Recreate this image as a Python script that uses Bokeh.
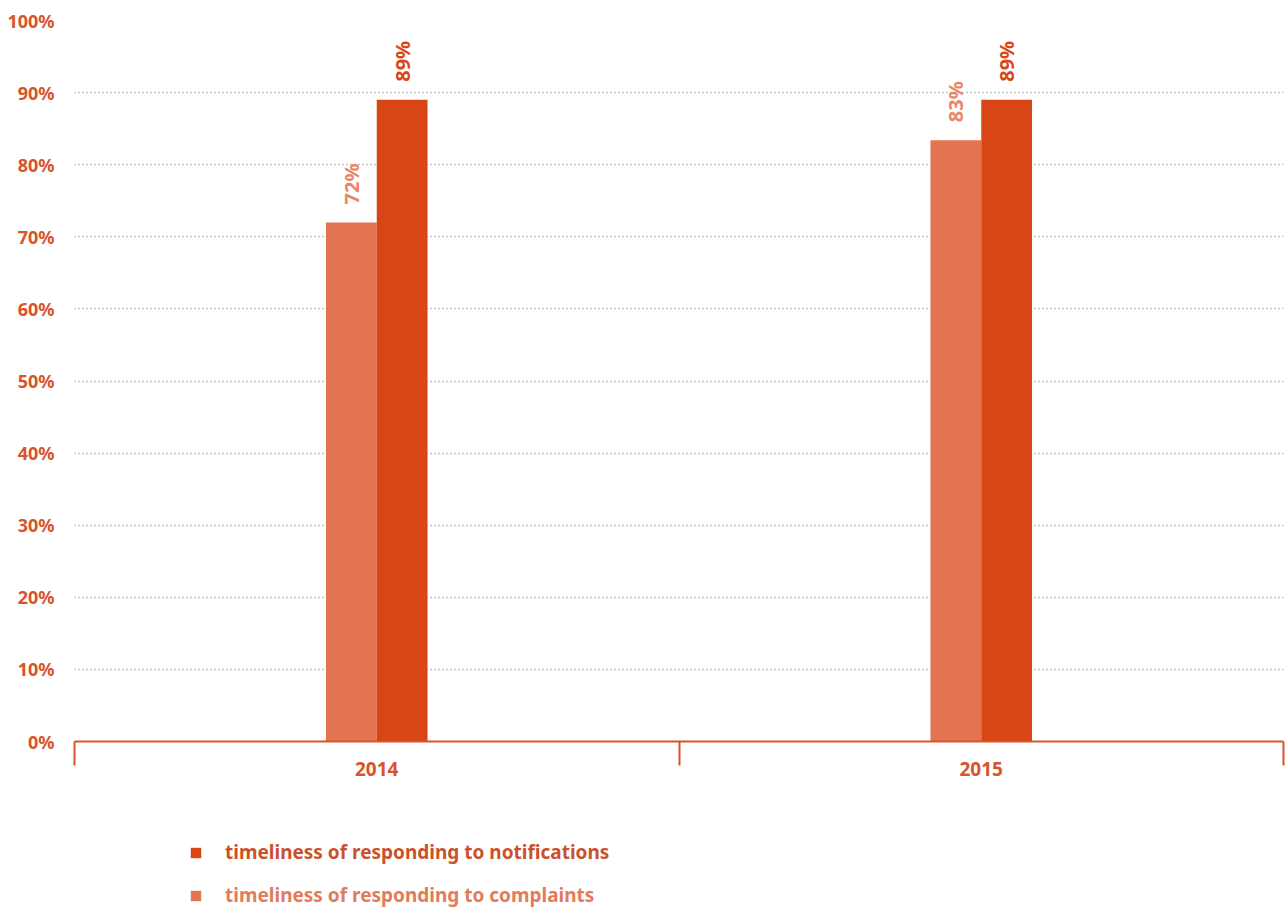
from math import pi
from bokeh.plotting import figure
from bokeh.layouts import column
from bokeh.models import (ColumnDataSource, Range1d, FixedTicker, Legend, LegendItem,
                          CustomJSTickFormatter)
from bokeh.transform import dodge
from bokeh.core.properties import value
from bokeh.embed import file_html
from bokeh.resources import INLINE

years = ["2014", "2015"]
complaints = [72, 83.4]
notifications = [89, 89]
y_ticks = [0, 10, 20, 30, 40, 50, 60, 70, 80, 90, 100]
series_names = ["timeliness of responding to notifications",
                "timeliness of responding to complaints"]

FONT = "Noto Sans"
C_NOTIF = "#D84616"
C_COMPL = "#E37451"
C_TEXT = "#D9532B"

xs = [i + 0.5 for i in range(len(years))]
src = ColumnDataSource(dict(
    x=xs, year=years, compl=complaints, notif=notifications,
    compl_lbl=[f"{round(v)}%" for v in complaints],
    notif_lbl=[f"{round(v)}%" for v in notifications],
))

W = 1285
p = figure(width=W, height=800, output_backend="svg", toolbar_location=None,
           x_range=Range1d(0, len(years)), y_range=Range1d(0, 100),
           min_border_left=74, min_border_right=2, min_border_top=20, min_border_bottom=59)
p.outline_line_color = None
p.background_fill_color = "white"
p.border_fill_color = "white"

# grid
p.xgrid.grid_line_color = None
p.ygrid.ticker = FixedTicker(ticks=y_ticks)
p.ygrid.grid_line_color = "#8a8a8a"
p.ygrid.grid_line_dash = "1 3"
p.ygrid.grid_line_width = 1.5

bw = 0.084
r_c = p.vbar(x=dodge("x", -bw / 2, range=p.x_range), top="compl", width=bw, bottom=0,
             source=src, fill_color=C_COMPL, line_color=None)
r_n = p.vbar(x=dodge("x", bw / 2, range=p.x_range), top="notif", width=bw, bottom=0,
             source=src, fill_color=C_NOTIF, line_color=None)

p.text(x=dodge("x", -bw / 2, range=p.x_range), y="compl", text="compl_lbl", source=src,
       angle=pi / 2, text_align="left", text_baseline="middle", y_offset=-18,
       text_font=value(FONT), text_font_size="20px", text_font_style="bold",
       text_color="#E9876A")
p.text(x=dodge("x", bw / 2, range=p.x_range), y="notif", text="notif_lbl", source=src,
       angle=pi / 2, text_align="left", text_baseline="middle", y_offset=-18,
       text_font=value(FONT), text_font_size="20px", text_font_style="bold",
       text_color=C_NOTIF)

# y axis
ya = p.yaxis[0]
ya.ticker = FixedTicker(ticks=y_ticks)
ya.formatter = CustomJSTickFormatter(code="return tick.toFixed(0) + '%';")
ya.axis_line_color = None
ya.major_tick_line_color = None
ya.minor_tick_line_color = None
ya.major_label_standoff = 14
ya.major_label_text_font = FONT
ya.major_label_text_font_size = "18px"
ya.major_label_text_font_style = "bold"
ya.major_label_text_color = C_TEXT

# x axis
xa = p.xaxis[0]
xa.ticker = FixedTicker(ticks=xs, minor_ticks=list(range(len(years) + 1)))
xa.major_label_overrides = {x: y for x, y in zip(xs, years)}
xa.axis_line_color = C_TEXT
xa.axis_line_width = 2
xa.major_tick_line_color = None
xa.major_tick_out = 0
xa.major_tick_in = 0
xa.minor_tick_line_color = C_TEXT
xa.minor_tick_line_width = 2
xa.minor_tick_out = 24
xa.minor_tick_in = 0
xa.major_label_standoff = -4
xa.major_label_text_font = FONT
xa.major_label_text_font_size = "19px"
xa.major_label_text_font_style = "bold"
xa.major_label_text_color = C_TEXT

# legend panel (separate figure below the chart, frame aligned with the chart's)
LH = 108
q = figure(width=W, height=LH, output_backend="svg", toolbar_location=None,
           x_range=Range1d(0, len(years)), y_range=Range1d(0, 100),
           x_axis_location=None, y_axis_location=None,
           min_border_left=0, min_border_right=0, min_border_top=0, min_border_bottom=0)
q.grid.grid_line_color = None
q.outline_line_color = None
q.border_fill_color = "white"
q.background_fill_color = "white"
l_n = q.vbar(x="x", top="notif", width=bw, source=src, fill_color=C_NOTIF, line_color=None,
             visible=False)
l_c = q.vbar(x="x", top="compl", width=bw, source=src, fill_color=C_COMPL, line_color=None,
             visible=False)

def mk_legend(item_label, renderer, color, y):
    lg = Legend(items=[LegendItem(label=item_label, renderers=[renderer], index=0)],
                location=(115, y), orientation="vertical",
                glyph_width=13, glyph_height=13, label_height=13, label_standoff=23,
                label_text_font=FONT, label_text_font_size="19px",
                label_text_font_style="bold", label_text_color=color,
                padding=0, margin=0, border_line_color=None,
                background_fill_alpha=0, inactive_fill_alpha=0)
    q.add_layout(lg, "center")

mk_legend(series_names[0], l_n, "#CC512A", 43)
mk_legend(series_names[1], l_c, "#E27B5A", 0)

layout = column(p, q, spacing=0)
open("out.html", "w").write(file_html(layout, INLINE))
